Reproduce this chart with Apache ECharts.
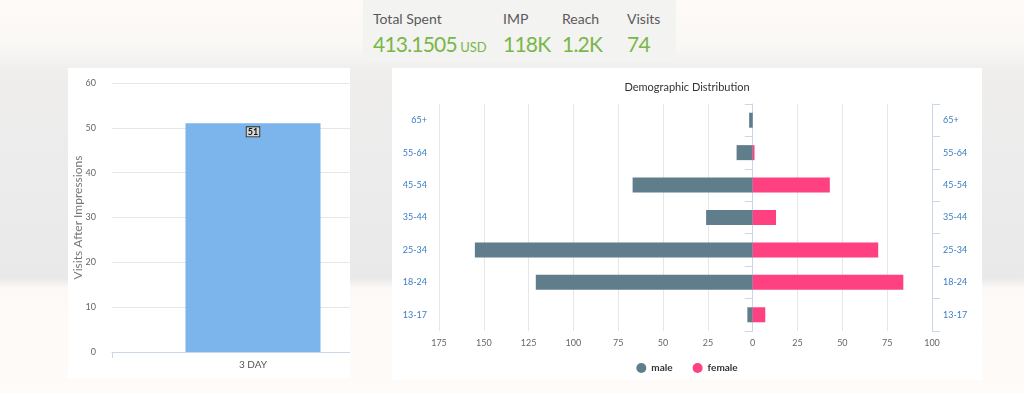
<!DOCTYPE html>
<html><head><meta charset="utf-8">
<script src="https://cdn.jsdelivr.net/npm/echarts@6/dist/echarts.min.js"></script>
<style>
html,body{margin:0;padding:0;width:1024px;height:393px;overflow:hidden;font-family:Lato,"Open Sans",sans-serif;}
body{background:linear-gradient(to bottom,#fdfaf7 0px,#faf8f5 45px,#efeeed 72px,#ebebeb 200px,#e9e9e9 278px,#fcf9f6 288px,#fefbf8 393px);position:relative;}
.panel{position:absolute;background:#fff;overflow:hidden;}
#stats{position:absolute;left:363px;top:0;width:313px;height:62px;background:#f3f3f1;}
.h{position:absolute;top:10px;font-size:14px;color:#5a5a5a;}
.v{position:absolute;top:31px;font-size:21px;color:#7ab648;letter-spacing:-0.8px;}
.u{font-size:13px;letter-spacing:0;}
</style></head><body>
<div id="stats"></div>
<div class="panel" style="left:68px;top:68px;width:282px;height:310px;"><div id="c1" style="width:326px;height:310px;"></div></div>
<div class="panel" style="left:392px;top:68px;width:590px;height:312px;"><div id="c2" style="width:590px;height:312px;"></div></div>
<script>
const statLabels=["Total Spent","IMP","Reach","Visits"];
const statValues=["413.1505","118K","1.2K","74"];
const statUnits=["USD","","",""];
const statX=[10,140,199,264];

const dayCategories=["3 DAY"];
const dayValues=[51];
const dayTicks=[0,10,20,30,40,50,60];

const ageGroups=["13-17","18-24","25-34","35-44","45-54","55-64","65+"];
const maleValues=[3,121,155,26,67,9,2];
const femaleValues=[7,84,70,13,43,1,0];

const st=document.getElementById('stats');
statLabels.forEach((l,i)=>{
  const h=document.createElement('div');h.className='h';h.style.left=statX[i]+'px';h.textContent=l;st.appendChild(h);
  const v=document.createElement('div');v.className='v';v.style.left=statX[i]+'px';
  v.textContent=statValues[i];
  if(statUnits[i]){const u=document.createElement('span');u.className='u';u.textContent=' '+statUnits[i];v.appendChild(u);}
  st.appendChild(v);
});

const font='Lato';
const c1=echarts.init(document.getElementById('c1'));
c1.setOption({
  animation:false,
  textStyle:{fontFamily:font},
  grid:{left:44,right:0,top:15,bottom:26,outerBoundsMode:'none',containLabel:false},
  xAxis:{type:'category',data:dayCategories,
    axisLine:{lineStyle:{color:'#ccd6eb'}},
    axisTick:{show:true,alignWithLabel:false,length:6,lineStyle:{color:'#ccd6eb'}},
    axisLabel:{color:'#555',fontSize:10,margin:8}},
  yAxis:{type:'value',min:dayTicks[0],max:dayTicks[dayTicks.length-1],interval:10,
    name:'Visits After Impressions',nameLocation:'middle',nameGap:28,nameMoveOverlap:false,
    nameTextStyle:{color:'#777',fontSize:12},
    axisLabel:{color:'#666',fontSize:9,margin:16},
    splitLine:{lineStyle:{color:'#e6e6e6'}}},
  series:[{type:'bar',data:dayValues,barWidth:135,itemStyle:{color:'#7cb5ec'},
    label:{show:true,position:'insideTop',distance:4,color:'#111',fontSize:9,fontWeight:'bold',
      backgroundColor:'#d8d8d8',borderColor:'#333',borderWidth:1,padding:[0,1]}}]
});

const c2=echarts.init(document.getElementById('c2'));
const catAxis=(pos,margin)=>({type:'category',data:ageGroups,position:pos,
  axisLine:{show:true,lineStyle:{color:'#ccd6eb'}},
  axisTick:{show:true,length:8,lineStyle:{color:'#ccd6eb'}},
  axisLabel:{color:'#3b7dc0',fontSize:9,margin:margin}});
c2.setOption({
  animation:false,
  textStyle:{fontFamily:font},
  title:{text:'Demographic Distribution',left:'center',top:9,textStyle:{fontSize:11,fontWeight:'normal',color:'#333',fontFamily:font}},
  legend:{bottom:2,itemWidth:10,itemHeight:10,itemGap:20,icon:'circle',textStyle:{color:'#333',fontSize:10,fontWeight:'bold',fontFamily:font},data:['male','female']},
  grid:{left:47,right:50,top:36,bottom:49,outerBoundsMode:'none',containLabel:false},
  xAxis:{type:'value',min:-175,max:100,interval:25,
    axisLine:{show:false},axisTick:{show:false},
    axisLabel:{color:'#666',fontSize:9,margin:8,formatter:v=>Math.abs(v)},
    splitLine:{lineStyle:{color:'#e6e6e6'}}},
  yAxis:[catAxis('left',12),catAxis('right',11)],
  series:[
    {name:'male',type:'bar',data:maleValues.map(v=>-v),barWidth:15,barGap:'-100%',itemStyle:{color:'#607d8b'}},
    {name:'female',type:'bar',data:femaleValues,barWidth:15,itemStyle:{color:'#ff4081'}}
  ]
});
</script></body></html>
